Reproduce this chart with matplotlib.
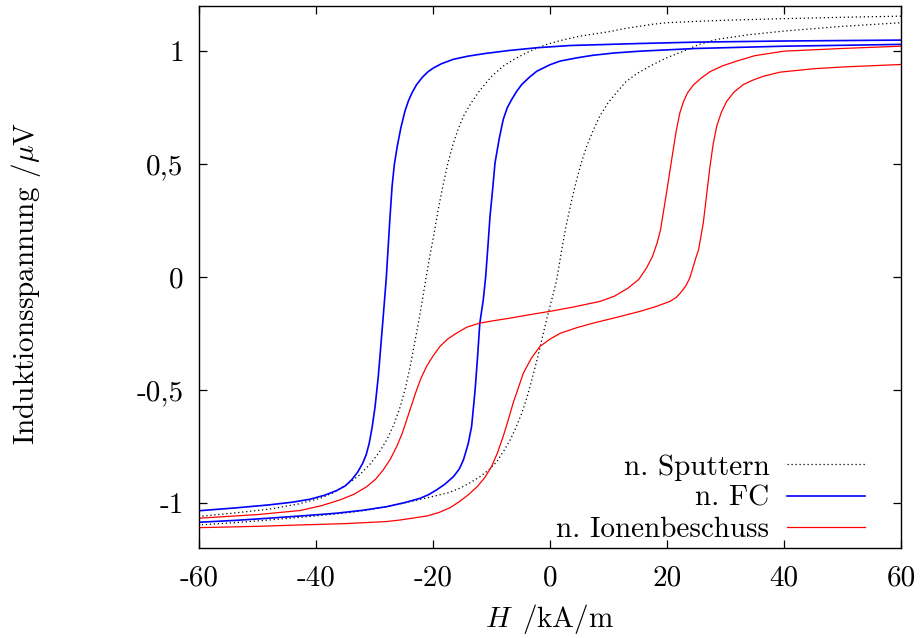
import matplotlib
matplotlib.use("Agg")
import matplotlib.pyplot as plt

plt.rcParams['font.family'] = ['cmr10', 'DejaVu Serif']
plt.rcParams['mathtext.fontset'] = 'cm'
plt.rcParams['axes.formatter.use_mathtext'] = True

# --- data (H in kA/m, induction voltage in µV) ---
# n. Sputtern (black dotted)
sp_down_x = [60, 50, 40, 30, 25, 20, 17.5, 15, 12.5, 10.3, 7.5, 4.56, 1.5, -0.56, -2.3, -4.0, -6, -8.0,
             -10, -12.0, -13.5, -14.8, -15.7, -16.5, -17.4, -18.2, -19.1, -19.9, -20.6, -21.2, -21.8,
             -22.5, -23.2, -23.9, -24.7, -25.6, -26.7, -27.9, -29.3, -30.8, -32.7, -34.8, -37, -39.3,
             -43, -48, -54, -60]
sp_down_y = [1.155, 1.15, 1.144, 1.137, 1.132, 1.126, 1.119, 1.109, 1.099, 1.087, 1.076, 1.064, 1.045, 1.03,
             1.013, 0.993, 0.966, 0.934, 0.888, 0.826, 0.77, 0.712, 0.655, 0.594, 0.51, 0.417, 0.30, 0.18,
             0.085, -0.004, -0.10, -0.204, -0.30, -0.396, -0.49, -0.574, -0.655, -0.721, -0.78, -0.83,
             -0.88, -0.92, -0.955, -0.98, -1.005, -1.028, -1.045, -1.06]
sp_up_x = [-60, -54, -48, -40, -34, -30.8, -27, -23, -19.4, -17.3, -15.4, -13.6, -12.0, -10.5, -9.1,
           -7.9, -6.8, -5.8, -4.84, -3.9, -3.1, -2.2, -1.4, -0.7, 0.0, 0.6, 1.15, 2.0, 2.85, 3.7, 4.56,
           5.4, 6.27, 7.4, 8.5, 9.9, 11.4, 13, 14.8, 17.1, 19.9, 22.8, 25.5, 28.5, 34, 40, 50, 60]
sp_up_y = [-1.098, -1.088, -1.076, -1.058, -1.042, -1.03, -1.012, -0.99, -0.968, -0.955, -0.935, -0.91,
           -0.885, -0.855, -0.818, -0.77, -0.721, -0.665, -0.604, -0.53, -0.455, -0.365, -0.278, -0.2,
           -0.13, -0.07, -0.012, 0.12, 0.239, 0.34, 0.431, 0.51, 0.579, 0.65, 0.712, 0.77, 0.818, 0.865,
           0.9, 0.934, 0.97, 1.0, 1.03, 1.052, 1.073, 1.089, 1.11, 1.126]

# n. FC (blue)
fc_down_x = [60, 40, 25, 15.4, 3.4, -2.3, -7, -11, -14, -16.5, -18.5, -19.9, -20.8, -21.8, -22.8,
             -23.6, -24.2, -24.8, -25.5, -26.1, -26.6, -27.0, -27.35, -28.0, -28.6, -29.35, -29.9,
             -30.4, -30.9, -31.4, -32.0, -32.9, -33.9, -35.0, -36.5, -38.5, -41, -44, -48, -54, -60]
fc_down_y = [1.049, 1.045, 1.04, 1.034, 1.025, 1.015, 1.003, 0.99, 0.978, 0.964, 0.945, 0.926, 0.91,
             0.885, 0.852, 0.815, 0.78, 0.734, 0.66, 0.58, 0.50, 0.40, 0.265, -0.01, -0.204, -0.44,
             -0.574, -0.665, -0.736, -0.785, -0.824, -0.865, -0.898, -0.925, -0.946, -0.966, -0.984,
             -0.997, -1.009, -1.023, -1.035]
fc_up_x = [-60, -54, -48, -42, -36.5, -32, -27.9, -25, -22.2, -20.7, -19.4, -18.0, -16.5, -15.5,
           -14.8, -14.0, -13.4, -12.8, -12.4, -12.0, -11.4, -11.0, -10.6, -10.26, -9.8, -9.4, -8.7,
           -8.0, -7.3, -6.55, -5.7, -4.84, -3.5, -2.27, 0, 1.7, 4.5, 7.4, 11, 15.4, 25, 40, 60]
fc_up_y = [-1.086, -1.078, -1.068, -1.057, -1.046, -1.033, -1.017, -1.0, -0.98, -0.963, -0.943,
           -0.918, -0.884, -0.85, -0.81, -0.74, -0.662, -0.50, -0.36, -0.205, -0.10, 0.0, 0.14,
           0.267, 0.39, 0.505, 0.61, 0.697, 0.75, 0.786, 0.822, 0.852, 0.885, 0.911, 0.94, 0.956,
           0.97, 0.982, 0.992, 1.0, 1.012, 1.022, 1.030]

# n. Ionenbeschuss (red)
ib_down_x = [60, 50, 40, 35, 31.9, 29.5, 27.4, 25.8, 24.5, 23.5, 22.8, 22.2, 21.6, 21.1, 20.5, 19.9,
             19.4, 18.9, 18.3, 17.5, 16.5, 15.2, 13.3, 11, 8.55, 4, 0, -3.5, -6.8, -9.5, -12.0, -14.2,
             -15.95, -17.5, -18.8, -20.0, -21.1, -22.0, -22.8, -23.7, -24.5, -25.3, -26.2, -27.3,
             -28.5, -29.8, -31.3, -33.5, -35.9, -39, -42.7, -50, -60]
ib_down_y = [1.022, 1.012, 1.0, 0.98, 0.956, 0.935, 0.91, 0.88, 0.85, 0.815, 0.775, 0.727, 0.65, 0.57,
             0.47, 0.37, 0.29, 0.21, 0.15, 0.09, 0.04, -0.01, -0.05, -0.085, -0.108, -0.133, -0.152,
             -0.167, -0.182, -0.193, -0.204, -0.222, -0.248, -0.275, -0.307, -0.35, -0.396, -0.445,
             -0.50, -0.57, -0.633, -0.695, -0.75, -0.807, -0.854, -0.895, -0.928, -0.962, -0.987,
             -1.012, -1.034, -1.052, -1.068]
ib_up_x = [-60, -50, -42.7, -35, -28, -25.6, -21, -19, -17.1, -15.4, -14, -12.5, -11.2, -10.0, -9.0,
           -8.0, -7.1, -6.3, -5.4, -4.56, -3.2, -1.7, 0, 1.7, 4.5, 7.4, 11.5, 15.4, 18.2, 20.5, 21.6,
           22.5, 23.2, 23.9, 24.5, 25.0, 25.4, 25.8, 26.2, 26.8, 27.35, 27.9, 28.5, 29.3, 30.2, 31.5,
           33.05, 34.7, 36.5, 39.3, 45, 50, 60]
ib_up_y = [-1.11, -1.104, -1.098, -1.092, -1.083, -1.076, -1.058, -1.043, -1.022, -0.993, -0.965,
           -0.93, -0.89, -0.84, -0.78, -0.706, -0.63, -0.558, -0.49, -0.426, -0.36, -0.307, -0.275,
           -0.25, -0.225, -0.204, -0.178, -0.152, -0.13, -0.108, -0.09, -0.064, -0.04, -0.004, 0.047,
           0.09, 0.121, 0.18, 0.239, 0.37, 0.49, 0.59, 0.668, 0.73, 0.778, 0.82, 0.852, 0.872, 0.889,
           0.907, 0.922, 0.93, 0.941]

labels = ['n. Sputtern', 'n. FC', 'n. Ionenbeschuss']
x_ticks = [-60, -40, -20, 0, 20, 40, 60]
x_ticklabels = ['-60', '-40', '-20', '0', '20', '40', '60']
y_ticks = [-1, -0.5, 0, 0.5, 1]
y_ticklabels = ['-1', '-0,5', '0', '0,5', '1']

FS = 21

fig = plt.figure(figsize=(9.24, 6.38), dpi=100)
ax = fig.add_axes([199/924, 90/638, 702/924, 542/638])

dot = dict(color='black', lw=0.9, linestyle=(0, (1, 2.2)))
l1, = ax.plot(sp_down_x + sp_up_x, sp_down_y + sp_up_y, **dot)
l2, = ax.plot(fc_down_x + fc_up_x, fc_down_y + fc_up_y, color='#0000ff', lw=1.2)
l3, = ax.plot(ib_down_x + ib_up_x, ib_down_y + ib_up_y, color='#ff0000', lw=0.9)

ax.set_xlim(-60, 60)
ax.set_ylim(-1.2, 1.2)
ax.set_xticks(x_ticks)
ax.set_xticklabels(x_ticklabels)
ax.set_yticks(y_ticks)
ax.set_yticklabels(y_ticklabels)
ax.tick_params(direction='in', length=6, width=0.9, top=True, right=True,
               labelsize=FS, pad=11)
ax.tick_params(axis='x', pad=12)
for s in ax.spines.values():
    s.set_linewidth(1.0)

ax.set_xlabel(r'$H\enspace/$kA$/$m', fontsize=FS)
ax.xaxis.set_label_coords(0.5, -0.100)
ax.set_ylabel(r'Induktionsspannung $/\mu$V', fontsize=FS)
ax.yaxis.set_label_coords(-0.222, 0.487)

leg = ax.legend([l1, l2, l3], labels, loc='lower right', bbox_to_anchor=(0.9658, -0.012),
                frameon=False, markerfirst=False, fontsize=FS, handlelength=2.67,
                handletextpad=0.62, labelspacing=0.16, borderpad=0.2, borderaxespad=0.2)
for t in leg.get_texts():
    t.set_ha('right')

fig.savefig('out.png', dpi=100)
